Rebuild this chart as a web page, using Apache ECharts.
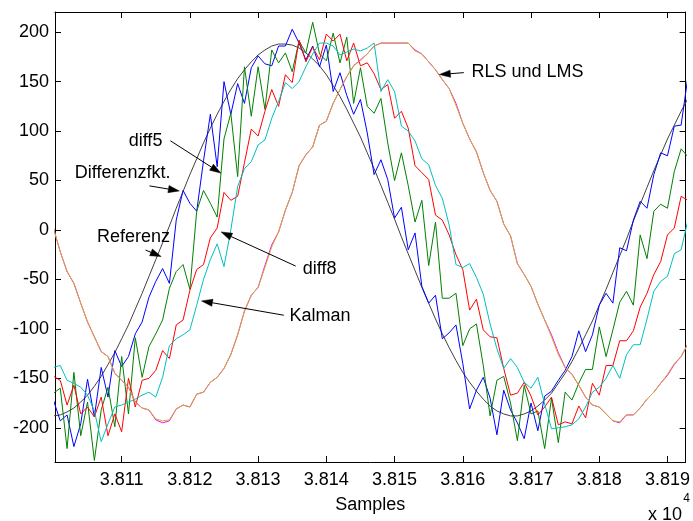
<!DOCTYPE html>
<html><head><meta charset="utf-8">
<script src="https://cdn.jsdelivr.net/npm/echarts@6/dist/echarts.min.js"></script>
<style>html,body{margin:0;padding:0;background:#fff}#c{width:693px;height:521px}</style>
</head><body><div id="c"></div>
<script>
const samples=[38100,38101,38102,38103,38104,38105,38106,38107,38108,38109,
38110,38111,38112,38113,38114,38115,38116,38117,38118,38119,
38120,38121,38122,38123,38124,38125,38126,38127,38128,38129,
38130,38131,38132,38133,38134,38135,38136,38137,38138,38139,
38140,38141,38142,38143,38144,38145,38146,38147,38148,38149,
38150,38151,38152,38153,38154,38155,38156,38157,38158,38159,
38160,38161,38162,38163,38164,38165,38166,38167,38168,38169,
38170,38171,38172,38173,38174,38175,38176,38177,38178,38179,
38180,38181,38182,38183,38184,38185,38186,38187,38188,38189,
38190,38191,38192,38193];
const referenz=[-188,-187,-184,-180,-174,-167,-158,-148,-136,-124,
-110,-96,-80,-64,-47,-30,-13,4,22,39,
56,72,88,103,117,130,142,153,162,170,
177,182,186,188,188,187,184,179,173,166,
157,146,135,122,108,94,78,62,45,28,
11,-7,-24,-41,-58,-74,-90,-105,-119,-132,
-144,-154,-163,-171,-178,-183,-186,-188,-188,-186,
-183,-178,-172,-165,-155,-145,-133,-120,-106,-92,
-76,-60,-43,-26,-9,9,26,43,60,76,
92,106,120,133];
const differenzfkt=[-172,-193,-187,-219,-196,-151,-189,-139,-169,-122,
-138,-128,-105,-93,-68,-52,-39,-54,10,40,
27,19,70,117,64,150,117,148,128,164,
176,168,166,186,186,203,189,172,186,165,
187,140,159,136,117,132,98,56,71,51,
12,23,-20,-3,-57,-74,-66,-110,-104,-96,
-135,-181,-162,-149,-170,-207,-162,-182,-195,-211,
-175,-203,-168,-163,-152,-142,-128,-102,-123,-106,
-76,-64,-74,-18,-21,10,29,22,56,78,
75,105,106,155];
const diff5=[-165,-160,-221,-144,-208,-174,-233,-182,-159,-199,
-128,-186,-109,-149,-118,-105,-91,-59,-42,-35,
-60,19,40,27,13,92,118,54,165,115,
165,122,182,169,179,160,191,179,210,178,
171,199,169,195,128,164,125,118,133,88,
50,78,45,8,30,-36,8,-69,-69,-64,
-117,-100,-95,-137,-188,-152,-148,-175,-213,-157,
-186,-183,-221,-170,-215,-164,-172,-155,-141,-141,
-98,-128,-101,-73,-62,-76,-5,-29,19,26,
22,59,82,74];
const diff8=[-148,-152,-177,-157,-186,-179,-189,-169,-208,-186,
-204,-150,-179,-152,-150,-142,-122,-130,-96,-91,
-61,-40,-35,-8,2,38,30,34,68,102,
95,120,142,125,157,149,192,170,185,172,
198,191,198,171,189,166,169,158,142,147,
113,120,103,65,58,51,15,10,-5,-25,
-40,-81,-70,-101,-108,-109,-140,-167,-165,-154,
-168,-187,-179,-169,-197,-194,-196,-178,-190,-155,
-167,-137,-137,-112,-112,-102,-78,-64,-45,-32,
-5,2,34,30];
const kalman=[-139,-137,-152,-155,-159,-167,-183,-214,-196,-179,
-177,-174,-171,-167,-164,-169,-149,-117,-110,-106,
-101,-76,-50,-30,-14,-37,0,44,62,69,
86,91,113,130,149,143,150,165,178,189,
189,186,177,180,183,181,184,189,140,152,
140,105,100,90,72,66,45,32,5,-35,
-38,-34,-48,-65,-95,-120,-140,-130,-139,-154,
-160,-149,-176,-201,-200,-199,-197,-191,-179,-164,
-159,-150,-137,-150,-126,-116,-116,-90,-62,-52,
-47,-24,-20,10];
const lms=[2,-22,-42,-54,-74,-93,-108,-123,-128,-145,
-152,-159,-174,-180,-182,-192,-195,-193,-181,-177,
-179,-166,-164,-154,-149,-140,-126,-106,-82,-66,
-58,-36,-15,-2,20,38,65,76,84,106,
110,128,142,155,166,172,178,186,189,189,
189,189,189,182,178,170,162,152,143,128,
108,92,79,58,40,29,6,-6,-34,-45,
-57,-75,-91,-106,-124,-139,-146,-157,-169,-177,
-179,-186,-193,-195,-187,-187,-180,-171,-164,-155,
-147,-136,-128,-115];
const rls=[2,-22,-42,-54,-74,-93,-108,-123,-128,-145,
-152,-159,-174,-180,-182,-191,-193,-192,-181,-177,
-179,-166,-164,-154,-149,-140,-126,-106,-82,-66,
-58,-38,-17,-2,20,38,65,76,84,106,
110,128,142,155,166,171,178,186,189,189,
189,189,189,181,178,170,162,152,143,126,
108,92,79,58,40,29,6,-6,-34,-45,
-57,-75,-91,-108,-126,-139,-146,-157,-169,-177,
-179,-186,-193,-194,-187,-187,-180,-171,-164,-155,
-146,-135,-128,-115];
const xTicks=[38110,38120,38130,38140,38150,38160,38170,38180,38190];
const yTicks=[-200,-150,-100,-50,0,50,100,150,200];
const annoText=['RLS und LMS','diff5','Differenzfkt.','Referenz','diff8','Kalman'];
const annoTextAt=[[38169.48,160.2],[38113.5,90.2],[38110.15,57.8],[38111.75,-7.1],[38139.01,-39.5],[38139.08,-87.2]];
const annoFrom=[[38160.15,159.1],[38117.14,90.2],[38114.08,44.6],[38113.5,-20.3],[38135.51,-36.5],[38133.76,-86.2]];
const annoTo=[[38156.57,157.1],[38124.53,57.5],[38118.45,39.5],[38115.79,-26.9],[38124.58,-2.0],[38121.71,-71.7]];

const FONT="'Liberation Sans', Arial, sans-serif";
const FS=18;
function pairs(v){return samples.map((s,i)=>[s,v[i]]);}
function ln(name,v,color){return {name,type:'line',data:pairs(v),symbol:'none',smooth:false,clip:true,
  lineStyle:{color,width:1},itemStyle:{color},animation:false,z:2};}
const XMIN=38100.23,XMAX=38192.66,YMIN=-234.6,YMAX=220.4;
function xAx(pos,lab){return {type:'value',position:pos,min:XMIN,max:XMAX,
  axisLine:{show:true,onZero:false,lineStyle:{color:'#000',width:1}},
  axisTick:{show:true,inside:true,length:6,customValues:xTicks,lineStyle:{color:'#000'}},
  axisLabel:{show:lab,customValues:xTicks,margin:9,color:'#000',fontFamily:FONT,fontSize:FS,
    formatter:v=>(v/10000).toFixed(3)},
  splitLine:{show:false},
  name:lab?'Samples':'',nameLocation:'middle',nameGap:34,
  nameTextStyle:{color:'#000',fontFamily:FONT,fontSize:FS}};}
function yAx(pos,lab){return {type:'value',position:pos,min:YMIN,max:YMAX,
  axisLine:{show:true,onZero:false,lineStyle:{color:'#000',width:1}},
  axisTick:{show:true,inside:true,length:6,customValues:yTicks,lineStyle:{color:'#000'}},
  axisLabel:{show:lab,customValues:yTicks,margin:6,color:'#000',fontFamily:FONT,fontSize:FS},
  splitLine:{show:false}};}
const chart=echarts.init(document.getElementById('c'),null,{renderer:'canvas'});
chart.setOption({
  animation:false,backgroundColor:'#fff',
  grid:{left:55,right:4,top:12,bottom:59,containLabel:false},
  xAxis:[xAx('bottom',true),xAx('top',false)],
  yAxis:[yAx('left',true),yAx('right',false)],
  series:[
    ln('Referenz',referenz,'#404040'),
    ln('Differenzfkt.',differenzfkt,'#0000ff'),
    ln('diff5',diff5,'#008000'),
    ln('diff8',diff8,'#ff0000'),
    ln('Kalman',kalman,'#00bfbf'),
    ln('LMS',lms,'#ff00ff'),
    ln('RLS',rls,'#c8b428')
  ]
});
const g=[];
for(let i=0;i<annoText.length;i++){
  const c=chart.convertToPixel({gridIndex:0},annoTextAt[i]);
  g.push({type:'text',x:c[0],y:c[1],z:10,style:{text:annoText[i],fill:'#000',font:FS+'px '+FONT,
    textAlign:'center',textVerticalAlign:'middle'}});
  const p1=chart.convertToPixel({gridIndex:0},annoFrom[i]);
  const p2=chart.convertToPixel({gridIndex:0},annoTo[i]);
  const dx=p2[0]-p1[0],dy=p2[1]-p1[1],L=Math.hypot(dx,dy),ux=dx/L,uy=dy/L;
  const HL=11,HW=3.6;
  const bx=p2[0]-ux*HL,by=p2[1]-uy*HL;
  g.push({type:'line',z:10,shape:{x1:p1[0],y1:p1[1],x2:bx,y2:by},style:{stroke:'#000',lineWidth:1}});
  g.push({type:'polygon',z:10,shape:{points:[[p2[0],p2[1]],[bx-uy*HW,by+ux*HW],[bx+uy*HW,by-ux*HW]]},
    style:{fill:'#000',stroke:'#000',lineWidth:0.5}});
}
g.push({type:'text',z:10,right:11,top:506,style:{text:'x 10',fill:'#000',font:FS+'px '+FONT}});
g.push({type:'text',z:10,right:3,top:493,style:{text:'4',fill:'#000',font:'12px '+FONT}});
chart.setOption({graphic:g});
</script></body></html>
